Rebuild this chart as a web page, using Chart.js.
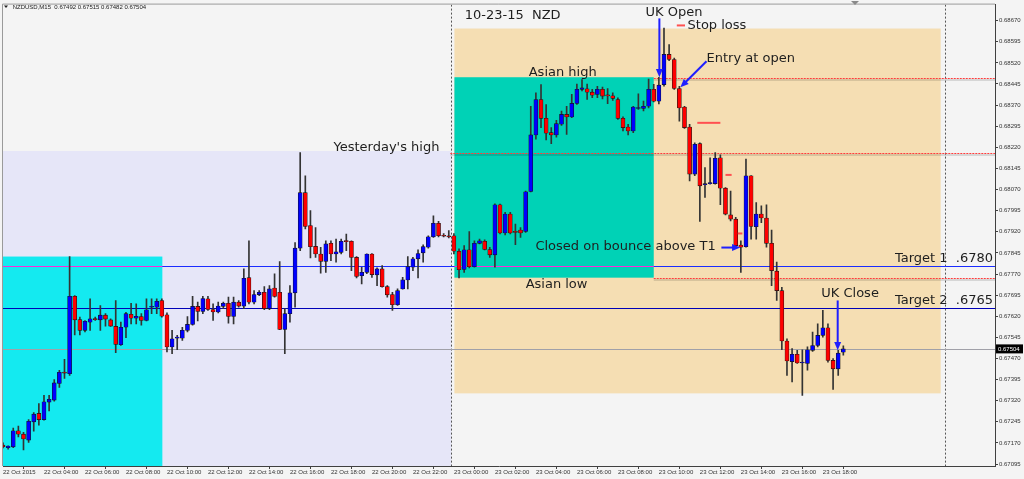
<!DOCTYPE html>
<html>
<head>
<meta charset="utf-8">
<script src="https://cdn.jsdelivr.net/npm/chart.js@4.4.0/dist/chart.umd.min.js"></script>
<style>
  html, body { margin: 0; padding: 0; background: #f4f4f4; }
  canvas { display: block; }
</style>
</head>
<body>
<canvas id="nzdChart" width="1024" height="479"></canvas>
<script>
// NZDUSD M15 bars, 22 Oct 02:00 -> 23 Oct 19:00 (one entry per 15 min bar)
const opens = [
  0.67162, 0.67153, 0.67156, 0.67213, 0.67201, 0.67180, 0.67245, 0.67275, 0.67253, 0.67315,
  0.67322, 0.67381, 0.67422, 0.67416, 0.67691, 0.67608, 0.67570, 0.67599, 0.67610, 0.67607,
  0.67624, 0.67607, 0.67584, 0.67519, 0.67581, 0.67627, 0.67613, 0.67619, 0.67605, 0.67652,
  0.67652, 0.67676, 0.67625, 0.67511, 0.67542, 0.67542, 0.67570, 0.67591, 0.67655, 0.67637,
  0.67682, 0.67644, 0.67635, 0.67655, 0.67666, 0.67619, 0.67670, 0.67656, 0.67757, 0.67670,
  0.67697, 0.67705, 0.67647, 0.67720, 0.67705, 0.67573, 0.67629, 0.67703, 0.67862, 0.68059,
  0.67942, 0.67868, 0.67841, 0.67815, 0.67879, 0.67841, 0.67847, 0.67886, 0.67886, 0.67829,
  0.67764, 0.67776, 0.67841, 0.67767, 0.67788, 0.67725, 0.67697, 0.67661, 0.67717, 0.67749,
  0.67794, 0.67824, 0.67845, 0.67865, 0.67902, 0.67950, 0.67906, 0.67906, 0.67906, 0.67851,
  0.67786, 0.67856, 0.67796, 0.67879, 0.67886, 0.67857, 0.67838, 0.68016, 0.67916, 0.67983,
  0.67919, 0.67926, 0.67921, 0.68063, 0.68264, 0.68390, 0.68323, 0.68272, 0.68264, 0.68302,
  0.68337, 0.68328, 0.68376, 0.68426, 0.68428, 0.68416, 0.68408, 0.68426, 0.68405, 0.68403,
  0.68390, 0.68323, 0.68292, 0.68278, 0.68358, 0.68358, 0.68366, 0.68426, 0.68384, 0.68443,
  0.68550, 0.68532, 0.68429, 0.68363, 0.68292, 0.68125, 0.68233, 0.68087, 0.68091, 0.68091,
  0.68183, 0.68075, 0.67980, 0.67965, 0.67873, 0.67867, 0.68119, 0.67938, 0.67983, 0.67969,
  0.67879, 0.67780, 0.67711, 0.67532, 0.67459, 0.67485, 0.67454, 0.67452, 0.67499, 0.67516,
  0.67552, 0.67579, 0.67463, 0.67433, 0.67492
];
const highs = [
  0.67170, 0.67160, 0.67223, 0.67230, 0.67208, 0.67253, 0.67278, 0.67310, 0.67339, 0.67339,
  0.67395, 0.67428, 0.67467, 0.67832, 0.67693, 0.67617, 0.67605, 0.67682, 0.67617, 0.67658,
  0.67629, 0.67611, 0.67676, 0.67599, 0.67634, 0.67666, 0.67664, 0.67629, 0.67682, 0.67682,
  0.67682, 0.67682, 0.67632, 0.67570, 0.67552, 0.67581, 0.67619, 0.67691, 0.67670, 0.67691,
  0.67691, 0.67664, 0.67670, 0.67670, 0.67688, 0.67688, 0.67676, 0.67788, 0.67888, 0.67711,
  0.67711, 0.67725, 0.67729, 0.67771, 0.67814, 0.67647, 0.67729, 0.67882, 0.68201, 0.68119,
  0.67995, 0.67935, 0.67865, 0.67888, 0.67888, 0.67894, 0.67894, 0.67912, 0.67888, 0.67832,
  0.67794, 0.67842, 0.67843, 0.67792, 0.67800, 0.67729, 0.67705, 0.67717, 0.67758, 0.67832,
  0.67829, 0.67856, 0.67874, 0.67906, 0.67977, 0.67957, 0.67914, 0.67924, 0.67914, 0.67859,
  0.67871, 0.67921, 0.67888, 0.67894, 0.67891, 0.67865, 0.68019, 0.68018, 0.67989, 0.67989,
  0.67947, 0.67935, 0.68065, 0.68366, 0.68414, 0.68443, 0.68372, 0.68290, 0.68316, 0.68349,
  0.68366, 0.68408, 0.68445, 0.68461, 0.68445, 0.68426, 0.68437, 0.68434, 0.68429, 0.68414,
  0.68396, 0.68328, 0.68302, 0.68366, 0.68410, 0.68384, 0.68462, 0.68444, 0.68469, 0.68644,
  0.68585, 0.68537, 0.68437, 0.68366, 0.68302, 0.68236, 0.68236, 0.68148, 0.68183, 0.68201,
  0.68193, 0.68077, 0.68065, 0.67971, 0.67888, 0.68178, 0.68120, 0.68024, 0.68012, 0.68016,
  0.67926, 0.67812, 0.67723, 0.67540, 0.67505, 0.67499, 0.67501, 0.67511, 0.67564, 0.67593,
  0.67641, 0.67593, 0.67470, 0.67499, 0.67515
];
const lows = [
  0.67152, 0.67148, 0.67153, 0.67191, 0.67145, 0.67172, 0.67212, 0.67233, 0.67251, 0.67284,
  0.67318, 0.67367, 0.67399, 0.67410, 0.67554, 0.67554, 0.67564, 0.67570, 0.67605, 0.67570,
  0.67585, 0.67584, 0.67491, 0.67516, 0.67544, 0.67593, 0.67593, 0.67588, 0.67603, 0.67629,
  0.67629, 0.67617, 0.67493, 0.67487, 0.67501, 0.67534, 0.67564, 0.67588, 0.67603, 0.67629,
  0.67641, 0.67605, 0.67632, 0.67647, 0.67595, 0.67593, 0.67652, 0.67647, 0.67664, 0.67664,
  0.67693, 0.67643, 0.67643, 0.67688, 0.67572, 0.67487, 0.67599, 0.67652, 0.67853, 0.67930,
  0.67827, 0.67829, 0.67773, 0.67776, 0.67817, 0.67812, 0.67841, 0.67853, 0.67782, 0.67756,
  0.67735, 0.67771, 0.67758, 0.67729, 0.67723, 0.67688, 0.67641, 0.67658, 0.67716, 0.67717,
  0.67782, 0.67756, 0.67812, 0.67862, 0.67900, 0.67902, 0.67902, 0.67898, 0.67841, 0.67756,
  0.67776, 0.67792, 0.67794, 0.67877, 0.67856, 0.67829, 0.67794, 0.67912, 0.67909, 0.67912,
  0.67874, 0.67900, 0.67918, 0.68062, 0.68249, 0.68290, 0.68246, 0.68233, 0.68256, 0.68298,
  0.68266, 0.68325, 0.68372, 0.68420, 0.68390, 0.68396, 0.68396, 0.68392, 0.68375, 0.68387,
  0.68319, 0.68278, 0.68264, 0.68272, 0.68355, 0.68349, 0.68360, 0.68381, 0.68374, 0.68437,
  0.68528, 0.68426, 0.68313, 0.68287, 0.68101, 0.68119, 0.67957, 0.68042, 0.68089, 0.68089,
  0.68016, 0.67980, 0.67959, 0.67867, 0.67776, 0.67865, 0.67894, 0.67894, 0.67952, 0.67865,
  0.67729, 0.67676, 0.67501, 0.67410, 0.67387, 0.67452, 0.67339, 0.67428, 0.67495, 0.67511,
  0.67546, 0.67457, 0.67360, 0.67410, 0.67482
];
const closes = [
  0.67156, 0.67159, 0.67213, 0.67201, 0.67184, 0.67247, 0.67272, 0.67253, 0.67316, 0.67325,
  0.67383, 0.67421, 0.67418, 0.67691, 0.67607, 0.67570, 0.67602, 0.67611, 0.67608, 0.67624,
  0.67610, 0.67585, 0.67520, 0.67581, 0.67629, 0.67613, 0.67620, 0.67605, 0.67643, 0.67655,
  0.67673, 0.67620, 0.67511, 0.67540, 0.67544, 0.67570, 0.67591, 0.67655, 0.67637, 0.67683,
  0.67644, 0.67635, 0.67656, 0.67666, 0.67619, 0.67670, 0.67656, 0.67755, 0.67670, 0.67697,
  0.67705, 0.67647, 0.67717, 0.67690, 0.67573, 0.67629, 0.67703, 0.67862, 0.68059, 0.67939,
  0.67867, 0.67841, 0.67815, 0.67877, 0.67841, 0.67849, 0.67886, 0.67885, 0.67829, 0.67761,
  0.67776, 0.67841, 0.67768, 0.67788, 0.67725, 0.67696, 0.67661, 0.67711, 0.67749, 0.67796,
  0.67824, 0.67843, 0.67867, 0.67902, 0.67950, 0.67906, 0.67904, 0.67902, 0.67851, 0.67785,
  0.67856, 0.67796, 0.67879, 0.67888, 0.67857, 0.67838, 0.68016, 0.67916, 0.67983, 0.67916,
  0.67918, 0.67916, 0.68062, 0.68264, 0.68390, 0.68323, 0.68270, 0.68264, 0.68304, 0.68337,
  0.68328, 0.68376, 0.68426, 0.68431, 0.68416, 0.68405, 0.68426, 0.68402, 0.68403, 0.68394,
  0.68323, 0.68290, 0.68278, 0.68363, 0.68360, 0.68366, 0.68426, 0.68384, 0.68441, 0.68550,
  0.68532, 0.68429, 0.68360, 0.68290, 0.68125, 0.68231, 0.68083, 0.68091, 0.68095, 0.68181,
  0.68075, 0.67983, 0.67965, 0.67871, 0.67865, 0.68119, 0.67939, 0.67983, 0.67969, 0.67879,
  0.67782, 0.67711, 0.67532, 0.67461, 0.67485, 0.67454, 0.67455, 0.67501, 0.67516, 0.67552,
  0.67579, 0.67463, 0.67433, 0.67489, 0.67504
];

// time axis: one label every 8 bars (2 hours)
const timeLabels = [
  '22 Oct 2015', '22 Oct 04:00', '22 Oct 06:00', '22 Oct 08:00', '22 Oct 10:00', '22 Oct 12:00',
  '22 Oct 14:00', '22 Oct 16:00', '22 Oct 18:00', '22 Oct 20:00', '22 Oct 22:00', '23 Oct 00:00',
  '23 Oct 02:00', '23 Oct 04:00', '23 Oct 06:00', '23 Oct 08:00', '23 Oct 10:00', '23 Oct 12:00',
  '23 Oct 14:00', '23 Oct 16:00', '23 Oct 18:00'
];
const priceTicks = [
  0.67095, 0.67170, 0.67245, 0.67320, 0.67395, 0.67470, 0.67545, 0.67620, 0.67695, 0.67770, 0.67845,
  0.67920, 0.67995, 0.68070, 0.68145, 0.68220, 0.68295, 0.68370, 0.68445, 0.68520, 0.68595, 0.68670
];
const lastPrice = 0.67504;
const target1 = 0.67800;
const target2 = 0.67650;
const yesterdayHigh = 0.68200;
const asianHigh = 0.68465;
const asianLow = 0.67757;

const bodies = opens.map((o, i) => ({ x: i, y: [o, closes[i]] }));
const wicks = opens.map((o, i) => ({ x: i, y: [lows[i], highs[i]] }));

// session boxes, levels, notes and arrows drawn on top of the scales
const sessionMarks = {
  id: 'sessionMarks',
  beforeDatasetsDraw(chart) {
    const { ctx, chartArea: a, scales: { x, y } } = chart;
    const X = v => x.getPixelForValue(v);
    const Y = v => y.getPixelForValue(v);
    ctx.save();
    ctx.beginPath();
    ctx.rect(a.left, a.top, a.right - a.left, a.bottom - a.top);
    ctx.clip();

    function box(i0, i1, p0, p1, color) {
      ctx.fillStyle = color;
      ctx.fillRect(X(i0), Y(p0), X(i1) - X(i0), Y(p1) - Y(p0));
    }
    box(0, 87.5, 0.68207, y.min, '#e6e6f8');   // previous day
    box(0, 31.1, 0.67832, y.min, '#14eaf0');   // previous asian session
    box(88.1, 183, 0.68642, 0.67346, '#f5deb3'); // today
    box(88.1, 127, 0.68469, asianLow, '#00d2b6'); // asian session

    function hline(p, i0, i1, color, width, dash) {
      const yy = Math.round(Y(p)) + 0.5;
      ctx.strokeStyle = color;
      ctx.lineWidth = width;
      ctx.setLineDash(dash || []);
      ctx.beginPath();
      ctx.moveTo(X(i0), yy);
      ctx.lineTo(X(i1), yy);
      ctx.stroke();
    }
    function vline(i, color) {
      const xx = Math.round(X(i)) + 0.5;
      ctx.strokeStyle = color;
      ctx.lineWidth = 1;
      ctx.setLineDash([2, 2]);
      ctx.beginPath();
      ctx.moveTo(xx, a.top);
      ctx.lineTo(xx, a.bottom);
      ctx.stroke();
    }
    vline(87.5, '#555555');
    vline(183.9, '#555555');

    // red dotted levels with their soft shadow
    [[asianHigh, 127], [yesterdayHigh, 87.3], [asianLow, 127]].forEach(([p, i0]) => {
      ctx.globalAlpha = 0.12;
      ctx.fillStyle = '#000';
      ctx.fillRect(X(i0), Math.round(Y(p)) + 1, X(x.max) - X(i0), 2);
      ctx.globalAlpha = 1;
      hline(p, i0, x.max, '#ff3c3c', 1, [2, 1]);
    });

    hline(target1, 0, x.max, '#1a2cff', 1.2);
    hline(target1, 0, 31.1, '#ff2ad8', 1.2);
    hline(target1, 88.1, 127, '#ff2ad8', 1.2);
    hline(target2, 0, x.max, '#0000b8', 1.2);
    hline(lastPrice, 0, x.max, '#a0a0a8', 1);
    ctx.restore();
  },
  afterDatasetsDraw(chart) {
    const { ctx, chartArea: a, scales: { x, y } } = chart;
    const X = v => x.getPixelForValue(v);
    const Y = v => y.getPixelForValue(v);
    ctx.save();

    // stop loss markers
    ctx.strokeStyle = '#ff5050';
    ctx.lineWidth = 2;
    [[131.5, 133.1, 0.68653], [135.5, 140.0, 0.68307], [141.0, 142.2, 0.68122], [143.4, 144.3, 0.67914]]
      .forEach(([i0, i1, p]) => {
        ctx.beginPath();
        ctx.moveTo(X(i0), Y(p));
        ctx.lineTo(X(i1), Y(p));
        ctx.stroke();
      });

    // notes
    ctx.font = '13px "DejaVu Sans"';
    ctx.fillStyle = '#1e1e1e';
    ctx.textBaseline = 'middle';
    ctx.textAlign = 'left';
    [
      ['10-23-15  NZD', 90.1, 0.68688],
      ['UK Open', 125.4, 0.68699],
      ['Stop loss', 133.6, 0.68653],
      ['Entry at open', 137.3, 0.68536],
      ['Asian high', 102.6, 0.68487],
      ["Yesterday's high", 64.5, 0.68218],
      ['Closed on bounce above T1', 103.9, 0.67867],
      ['Asian low', 102.0, 0.67733],
      ['UK Close', 159.7, 0.67701]
    ].forEach(([t, i, p]) => ctx.fillText(t, X(i), Y(p)));
    ctx.textAlign = 'right';
    ctx.fillText('Target 1  .6780', a.right - 2, Y(0.67825));
    ctx.fillText('Target 2  .6765', a.right - 2, Y(0.67676));

    // arrows
    function arrow(i0, p0, i1, p1) {
      const x0 = X(i0), y0 = Y(p0), x1 = X(i1), y1 = Y(p1);
      const ang = Math.atan2(y1 - y0, x1 - x0);
      ctx.strokeStyle = '#1f1fff';
      ctx.fillStyle = '#1f1fff';
      ctx.lineWidth = 2;
      ctx.beginPath();
      ctx.moveTo(x0, y0);
      ctx.lineTo(x1 - 5 * Math.cos(ang), y1 - 5 * Math.sin(ang));
      ctx.stroke();
      ctx.beginPath();
      ctx.moveTo(x1, y1);
      ctx.lineTo(x1 - 9 * Math.cos(ang - 0.4), y1 - 9 * Math.sin(ang - 0.4));
      ctx.lineTo(x1 - 9 * Math.cos(ang + 0.4), y1 - 9 * Math.sin(ang + 0.4));
      ctx.closePath();
      ctx.fill();
    }
    arrow(128.1, 0.68678, 128.1, 0.68469);
    arrow(137.3, 0.68526, 132.2, 0.68433);
    arrow(140.2, 0.67864, 143.9, 0.67864);
    arrow(162.9, 0.67676, 162.9, 0.67499);

    // chart frame
    ctx.strokeStyle = '#9a9a9a';
    ctx.lineWidth = 1;
    ctx.beginPath();
    ctx.moveTo(a.left - 0.5, a.bottom);
    ctx.lineTo(a.left - 0.5, a.top - 0.5);
    ctx.lineTo(a.right, a.top - 0.5);
    ctx.stroke();

    // current price tag on the price axis
    const py = Y(lastPrice);
    ctx.fillStyle = '#000';
    ctx.fillRect(a.right + 1, py - 4.5, 27, 9);
    ctx.fillStyle = '#fff';
    ctx.font = '6px "Liberation Sans"';
    ctx.textAlign = 'left';
    ctx.fillText(lastPrice.toFixed(5), a.right + 3, py);

    // header
    ctx.fillStyle = '#202020';
    ctx.beginPath();
    ctx.moveTo(4, 5.5); ctx.lineTo(8, 5.5); ctx.lineTo(6, 8);
    ctx.closePath();
    ctx.fill();
    ctx.fillText('NZDUSD,M15  0.67492 0.67515 0.67482 0.67504', 12.7, 7);

    // shift marker
    ctx.fillStyle = '#8a8a8a';
    ctx.beginPath();
    ctx.moveTo(851, 1); ctx.lineTo(859, 1); ctx.lineTo(855, 5);
    ctx.closePath();
    ctx.fill();
    ctx.restore();
  }
};

new Chart(document.getElementById('nzdChart'), {
  type: 'bar',
  data: {
    datasets: [
      {
        label: 'range',
        data: wicks,
        backgroundColor: '#333333',
        barThickness: 1,
        grouped: false,
        order: 2
      },
      {
        label: 'body',
        data: bodies,
        backgroundColor: ctx => closes[ctx.dataIndex] >= opens[ctx.dataIndex] ? '#0000ff' : '#ff0000',
        borderColor: '#141414',
        borderWidth: 0.6,
        borderSkipped: false,
        barThickness: 4,
        minBarLength: 1,
        grouped: false,
        order: 1
      }
    ]
  },
  options: {
    responsive: false,
    animation: false,
    layout: { padding: { left: 3, top: 3, right: 0, bottom: 0 } },
    plugins: {
      legend: { display: false },
      tooltip: { enabled: false }
    },
    scales: {
      x: {
        type: 'linear',
        min: 0,
        max: 193.6,
        offset: false,
        grid: { drawOnChartArea: false, tickLength: 3, color: '#404040' },
        border: { color: '#404040' },
        afterBuildTicks: s => { s.ticks = timeLabels.map((_, k) => ({ value: k * 8 })); },
        afterFit: s => { s.height = 13; },
        ticks: {
          autoSkip: false,
          maxRotation: 0,
          minRotation: 0,
          align: 'start',
          padding: 0,
          color: '#333333',
          font: { family: 'Liberation Sans', size: 6 },
          callback: v => timeLabels[Math.round(v / 8)]
        }
      },
      y: {
        position: 'right',
        min: 0.67088,
        max: 0.68727,
        beginAtZero: false,
        grid: { drawOnChartArea: false, tickLength: 3, color: '#404040' },
        border: { color: '#404040' },
        afterBuildTicks: s => { s.ticks = priceTicks.map(v => ({ value: v })); },
        afterFit: s => { s.width = 29; },
        ticks: {
          padding: 1,
          color: '#333333',
          font: { family: 'Liberation Sans', size: 6 },
          callback: v => v.toFixed(5)
        }
      }
    }
  },
  plugins: [sessionMarks]
});
</script>
</body>
</html>
